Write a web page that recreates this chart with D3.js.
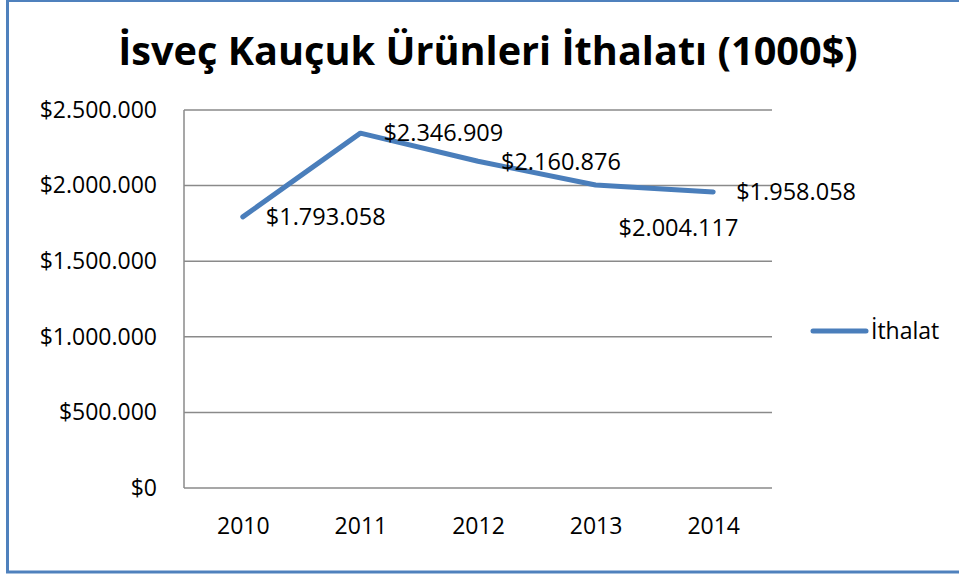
<!DOCTYPE html>
<html>
<head>
<meta charset="utf-8">
<script src="https://cdn.jsdelivr.net/npm/d3@7"></script>
<style>
  body { margin: 0; background: #fff; }
  svg { display: block; font-family: "Open Sans", sans-serif; }
</style>
</head>
<body>
<svg id="chart" width="959" height="574"></svg>
<script>
const title = 'İsveç Kauçuk Ürünleri İthalatı (1000$)'
const seriesName = 'İthalat'
const years = ['2010', '2011', '2012', '2013', '2014']
const imports = [1793058, 2346909, 2160876, 2004117, 1958058]
const yTicks = [0, 500000, 1000000, 1500000, 2000000, 2500000]

const svg = d3.select('#chart')
const blue = '#4a7ebb'
const trLocale = d3.formatLocale({decimal: ',', thousands: '.', grouping: [3], currency: ['$', '']})
const money = trLocale.format('$,')

// outer frame
svg.append('rect')
  .attr('x', 7.5).attr('y', 0.5).attr('width', 960).attr('height', 571.5)
  .attr('fill', 'none').attr('stroke', '#4f81bd').attr('stroke-width', 3)

const x = d3.scalePoint().domain(years).range([184, 772]).padding(0.5)
const y = d3.scaleLinear().domain([0, 2500000]).range([488, 110])

// gridlines
svg.append('g')
  .selectAll('line')
  .data(yTicks)
  .enter().append('line')
  .attr('x1', 184).attr('x2', 772)
  .attr('y1', d => y(d)).attr('y2', d => y(d))
  .attr('stroke', '#8a8a8a').attr('stroke-width', 1.5)

svg.append('line')
  .attr('x1', 184).attr('x2', 184).attr('y1', y(2500000)).attr('y2', y(0))
  .attr('stroke', '#8a8a8a').attr('stroke-width', 1.5)

const yAxis = svg.append('g')
  .attr('transform', 'translate(184,0)')
  .call(d3.axisLeft(y).tickValues(yTicks).tickSize(0).tickPadding(27).tickFormat(money))
  .attr('font-family', null).attr('font-size', null)
yAxis.select('.domain').remove()
yAxis.selectAll('text').style('font-size', '23px').attr('fill', '#000')

const xAxis = svg.append('g')
  .attr('transform', 'translate(0,488)')
  .call(d3.axisBottom(x).tickSize(0).tickPadding(30))
  .attr('font-family', null).attr('font-size', null)
xAxis.select('.domain').remove()
xAxis.selectAll('text').style('font-size', '23px').attr('fill', '#000')

// series line
const line = d3.line().x((d, i) => x(years[i])).y(d => y(d))
svg.append('path')
  .datum(imports)
  .attr('d', line)
  .attr('fill', 'none')
  .attr('stroke', blue)
  .attr('stroke-width', 5)
  .attr('stroke-linejoin', 'round')
  .attr('stroke-linecap', 'round')

// data labels, 2013 one was dragged below the line
svg.append('g')
  .selectAll('text')
  .data(imports)
  .enter().append('text')
  .attr('x', (d, i) => x(years[i]) + 23)
  .attr('y', (d, i) => y(d) + (i === 3 ? 43 : 0))
  .attr('dy', '0.35em')
  .style('font-size', '23.5px')
  .text(d => money(d))

// legend
svg.append('line')
  .attr('x1', 813).attr('x2', 866).attr('y1', 331).attr('y2', 331)
  .attr('stroke', blue).attr('stroke-width', 5).attr('stroke-linecap', 'round')
svg.append('text')
  .attr('x', 871).attr('y', 331).attr('dy', '0.35em')
  .style('font-size', '23px')
  .text(seriesName)

// title, squeezed to the width it has in the original
const t = svg.append('text')
  .attr('x', 488).attr('y', 65)
  .attr('text-anchor', 'middle')
  .style('font-size', '40px').style('font-weight', 'bold')
  .text(title)
const w = t.node().getComputedTextLength()
t.style('font-size', (40 * 740 / w) + 'px')
</script>
</body>
</html>
